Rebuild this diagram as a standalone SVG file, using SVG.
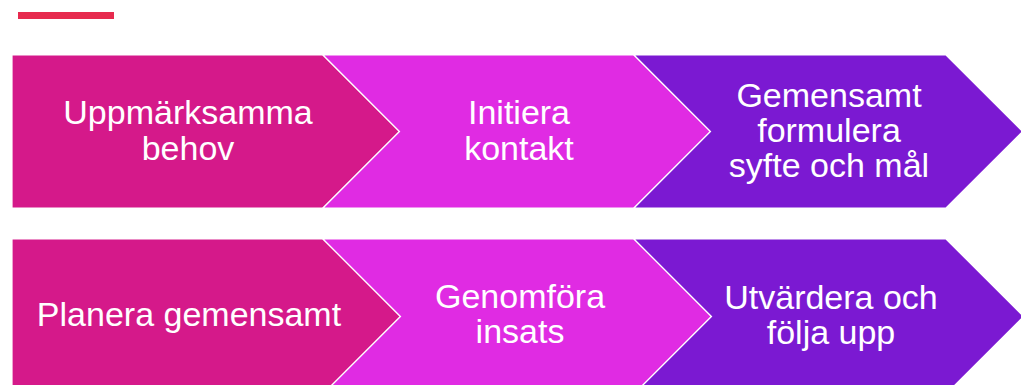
<svg xmlns="http://www.w3.org/2000/svg" width="1021" height="385" viewBox="0 0 1021 385">
<style>
.c1{fill:#D5198A;stroke:#ffffff;stroke-width:1.2}
.c2{fill:#E02BE3;stroke:#ffffff;stroke-width:1.2}
.c3{fill:#7B19D2;stroke:#ffffff;stroke-width:1.2}
.t{font-family:"Liberation Sans",Arial,sans-serif;font-size:34px;fill:#ffffff;text-anchor:middle}
</style>
<rect width="1021" height="385" fill="#ffffff"/>
<rect x="18" y="12" width="96" height="7" fill="#E72A4E"/>
<g id="step1">
<path class="c1" d="M12,55 H323 L399.5,131.5 L323,208 H12 Z"/>
<text class="t" x="188" y="124">Uppmärksamma</text>
<text class="t" x="188" y="160">behov</text>
</g>
<g id="step2">
<path class="c2" d="M323,55 H634 L710.5,131.5 L634,208 H323 L399.5,131.5 Z"/>
<text class="t" x="519" y="124">Initiera</text>
<text class="t" x="519" y="160">kontakt</text>
</g>
<g id="step3">
<path class="c3" d="M634,55 H946 L1022.5,131.5 L946,208 H634 L710.5,131.5 Z"/>
<text class="t" x="829" y="107">Gemensamt</text>
<text class="t" x="829" y="142">formulera</text>
<text class="t" x="829" y="177">syfte och mål</text>
</g>
<g id="step4">
<path class="c1" d="M12,239 H323 L400.5,316.5 L323,394 H12 Z"/>
<text class="t" x="189" y="326">Planera gemensamt</text>
</g>
<g id="step5">
<path class="c2" d="M323,239 H634 L711.5,316.5 L634,394 H323 L400.5,316.5 Z"/>
<text class="t" x="520" y="308">Genomföra</text>
<text class="t" x="520" y="343">insats</text>
</g>
<g id="step6">
<path class="c3" d="M634,239 H946 L1023.5,316.5 L946,394 H634 L711.5,316.5 Z"/>
<text class="t" x="831" y="309">Utvärdera och</text>
<text class="t" x="831" y="344">följa upp</text>
</g>
<g id="connectors"></g>
</svg>
